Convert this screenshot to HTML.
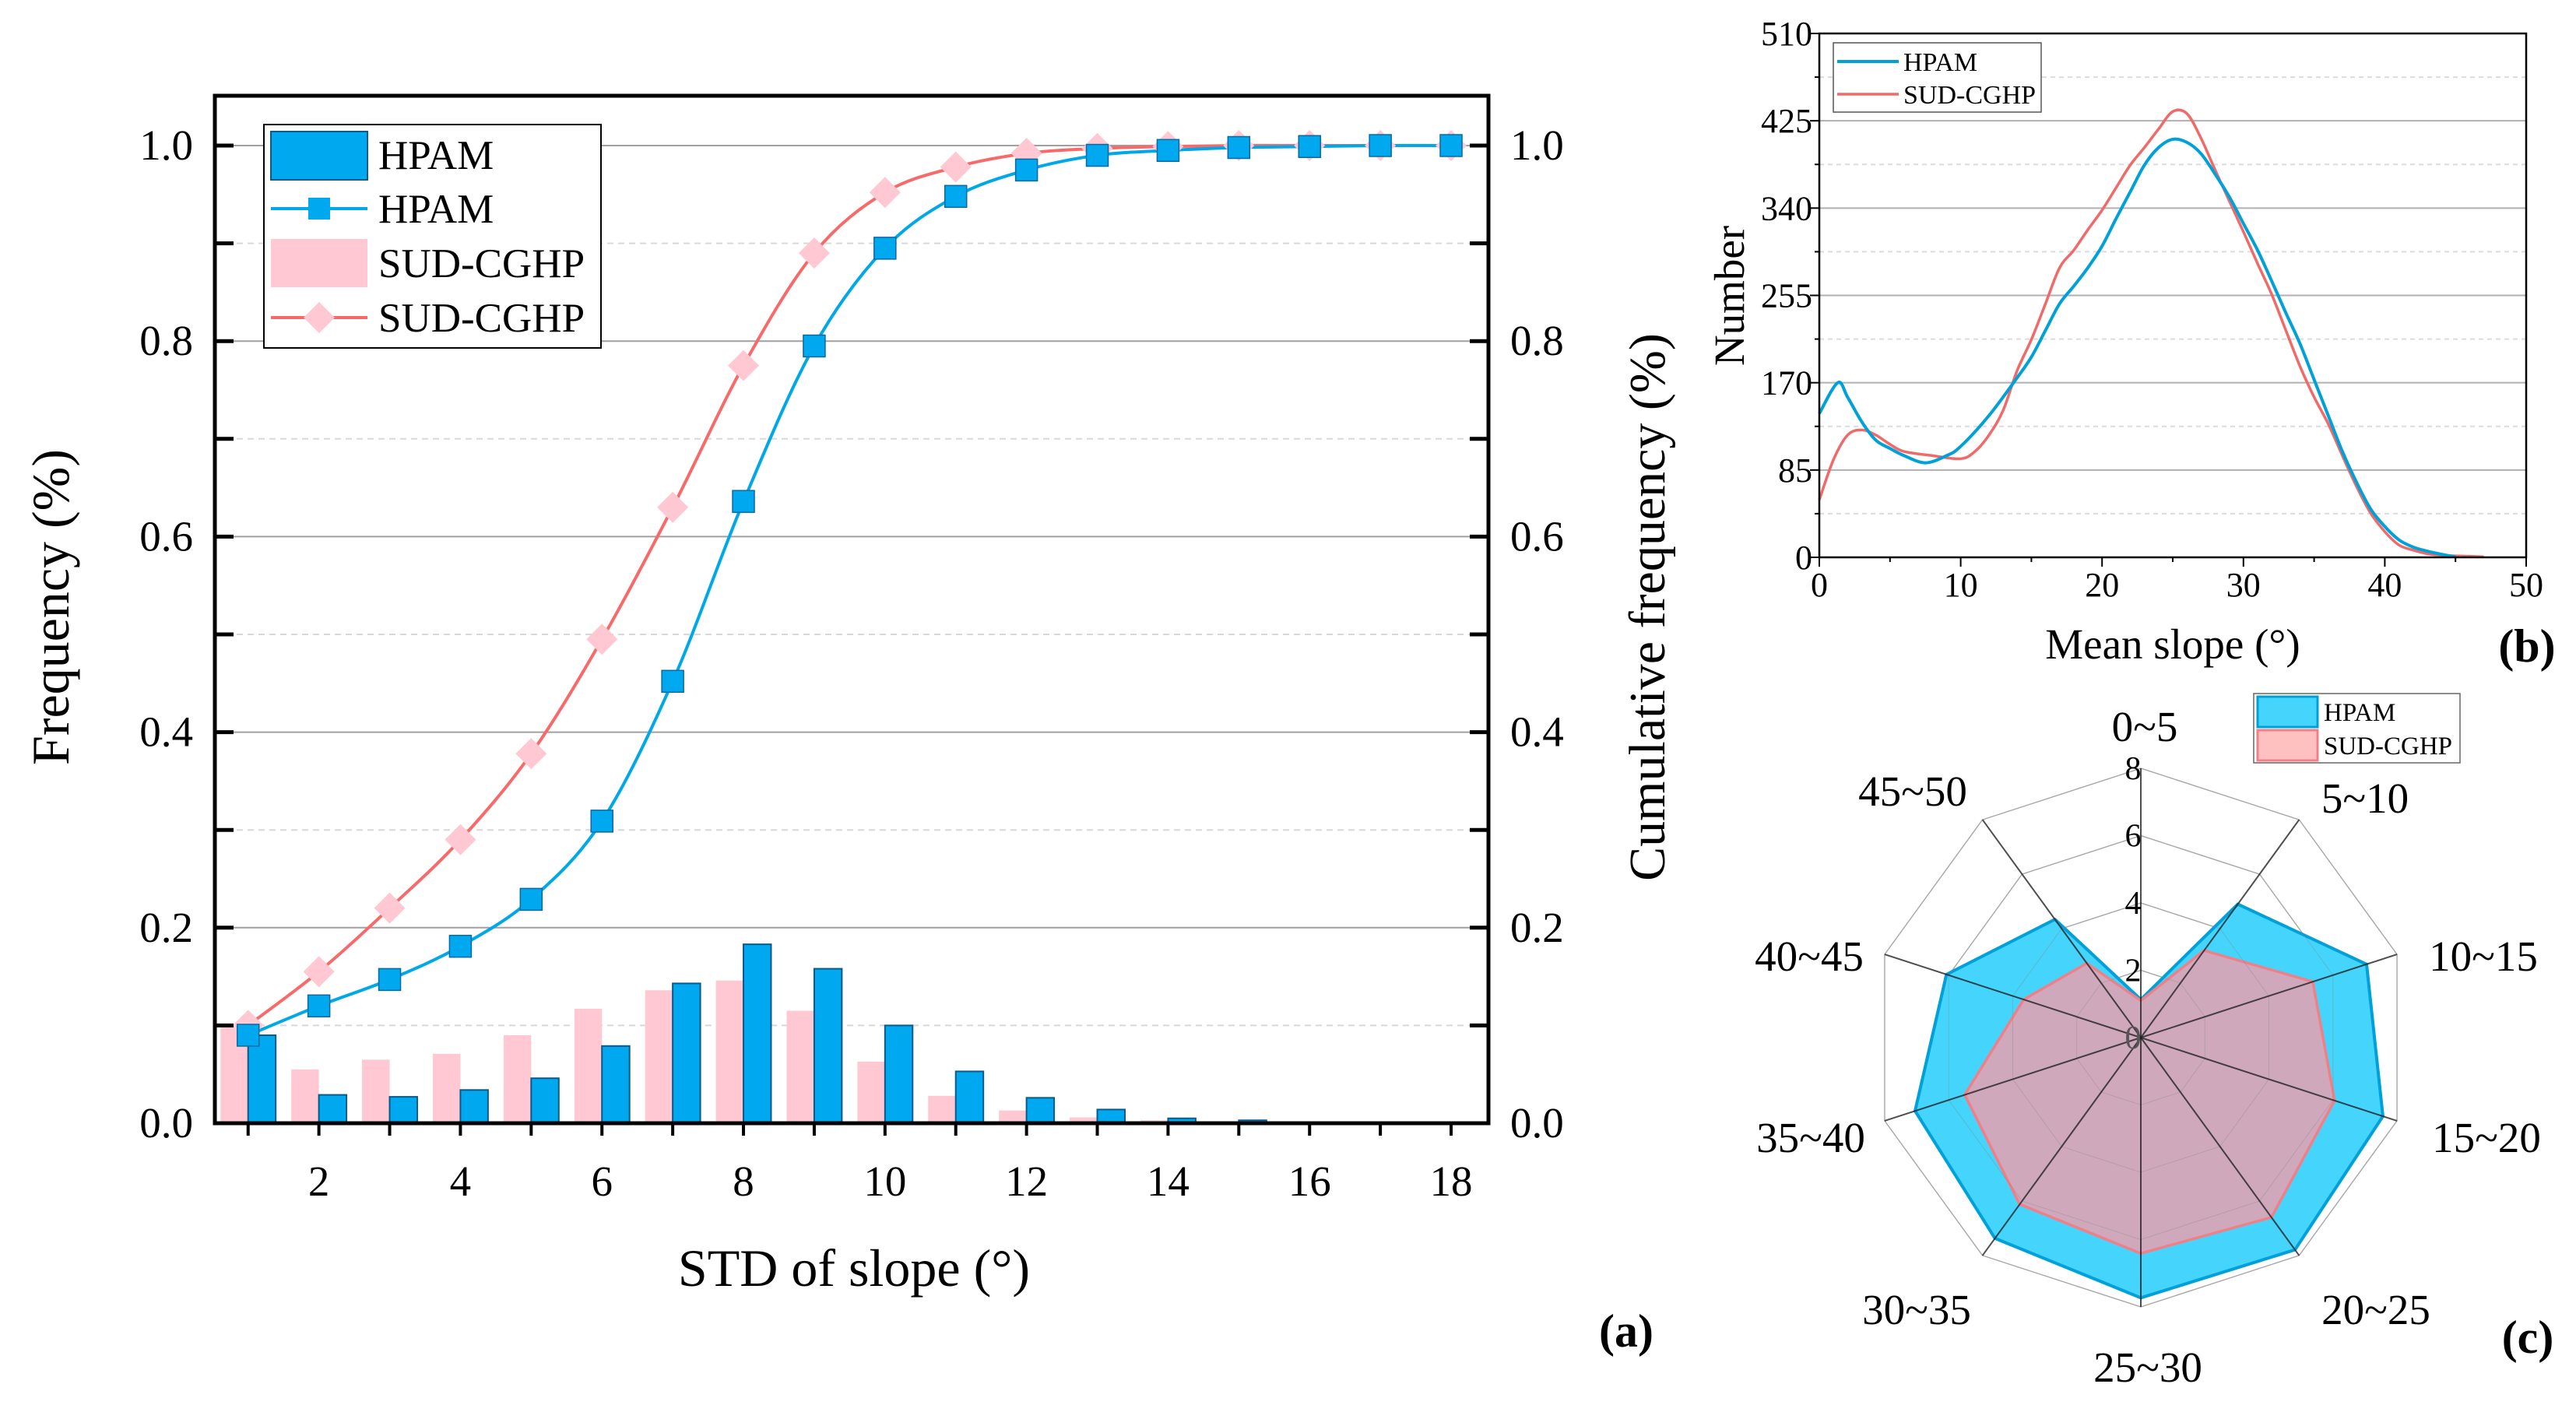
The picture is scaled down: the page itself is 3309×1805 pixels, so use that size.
<!DOCTYPE html>
<html><head><meta charset="utf-8"><style>
html,body{margin:0;padding:0;background:#fff}
svg{display:block;font-family:"Liberation Serif",serif}
</style></head><body>
<svg id="root" width="3309" height="1805" viewBox="0 0 3309 1805" xmlns="http://www.w3.org/2000/svg">
<g id="ga"></g>
<g id="gb"></g>
<g id="gc"></g>
</svg>
<script>
// ---------- Panel (a) data ----------
const aCats = [1,2,3,4,5,6,7,8,9,10,11,12,13,14,15,16,17,18];
const aHpamBars = [0.09,0.029,0.027,0.034,0.046,0.079,0.143,0.183,0.158,0.10,0.053,0.026,0.014,0.005,0.003,0.001,0,0];
const aSudBars = [0.10,0.055,0.065,0.071,0.09,0.117,0.136,0.146,0.115,0.063,0.028,0.013,0.006,0.003,0.001,0,0,0];
const aHpamCum = [0.09,0.12,0.147,0.181,0.229,0.309,0.452,0.636,0.795,0.895,0.948,0.975,0.99,0.995,0.998,0.999,1,1];
const aSudCum = [0.10,0.155,0.22,0.29,0.378,0.495,0.63,0.775,0.89,0.952,0.978,0.992,0.997,0.999,1,1,1,1];
const aYTicks = ["0.0","0.2","0.4","0.6","0.8","1.0"];
const aXTicks = [2,4,6,8,10,12,14,16,18];
// ---------- Panel (b) data ----------
const bHpamX = [0,1.3,2,3,4,5,6,7.5,9,10,12,14,15,16,17,18,19,20,21,22,23,24,25,26,27,28,29,30,31,32,33,34,35,36,37,38,39,40,41,42,43,44,45];
const bHpamY = [140,170,156,132,114,106,99,92,99,108,138,175,195,221,247,264,282,303,330,356,382,399,407,404,393,373,351,325,299,269,238,208,173,138,103,73,47,30,17,10,6,3,0.5];
const bSudX = [0,1,2,3,4,5,6,8,10,11,12,13,14,15,16,17,18,19,20,21,22,23,24,25,26,27,28,29,30,31,32,33,34,35,36,37,38,39,40,41,42,43,44,46,47];
const bSudY = [56,95,119,124,119,110,103,99,96,103,119,143,182,212,247,282,299,319,338,360,382,399,417,434,432,408,377,347,317,286,256,221,186,156,130,99,69,43,25,12,7,3.5,2,1,0.5];
const bYTicks = [0,85,170,255,340,425,510];
const bXTicks = [0,10,20,30,40,50];
// ---------- Panel (c) data ----------
const cCats = ["0~5","5~10","10~15","15~20","20~25","25~30","30~35","35~40","40~45","45~50"];
const cHpam = [1.13,4.9,7.05,7.56,7.79,7.73,7.37,7.05,6.07,4.34];
const cSud = [1.1,3.2,5.37,6.05,6.6,6.41,6.12,5.5,3.66,2.73];
const cRings = [0,2,4,6,8];

const NS="http://www.w3.org/2000/svg";
function mk(parent,tag,attrs,text){const e=document.createElementNS(NS,tag);for(const k in attrs)e.setAttribute(k,attrs[k]);if(text!==undefined)e.textContent=text;parent.appendChild(e);return e;}
function smooth(pts){let d="M"+pts[0][0]+","+pts[0][1];for(let i=0;i<pts.length-1;i++){const p0=pts[i-1]||pts[i],p1=pts[i],p2=pts[i+1],p3=pts[i+2]||p2;const c1=[p1[0]+(p2[0]-p0[0])/6,p1[1]+(p2[1]-p0[1])/6],c2=[p2[0]-(p3[0]-p1[0])/6,p2[1]-(p3[1]-p1[1])/6];d+=" C"+c1[0]+","+c1[1]+" "+c2[0]+","+c2[1]+" "+p2[0]+","+p2[1];}return d;}

// ===== Panel a =====
(function(){
const g=document.getElementById('ga');
const L=276,R=1912,T=123,B=1443;
const x=v=>L+(v-0.53)*90.9, y=v=>B-v*1256;
for(let i=1;i<=10;i++){const v=i/10;const ln=mk(g,'line',{x1:L,x2:R,y1:y(v),y2:y(v),stroke:i%2?'#d8d8d8':'#a0a0a0','stroke-width':2,'stroke-dasharray':i%2?'8,6':'none'});
}
const bw=0.39*90.9;
aCats.forEach((c,i)=>{
 const r1=mk(g,'rect',{x:x(c)-bw,y:y(aSudBars[i]),width:bw,height:B-y(aSudBars[i]),fill:'#ffc8d2'});
 
 const r2=mk(g,'rect',{x:x(c),y:y(aHpamBars[i]),width:bw,height:B-y(aHpamBars[i]),fill:'#00a8f0',stroke:'#0a5a8a','stroke-width':2});
 
});
const ps=aCats.map((c,i)=>[x(c),y(aSudCum[i])]);
const l1=mk(g,'path',{d:smooth(ps),fill:'none',stroke:'#f86a6a','stroke-width':4});

const ph=aCats.map((c,i)=>[x(c),y(aHpamCum[i])]);
const l2=mk(g,'path',{d:smooth(ph),fill:'none',stroke:'#00a8e8','stroke-width':4});

ps.forEach(p=>{const m=mk(g,'polygon',{points:`${p[0]},${p[1]-20} ${p[0]+20},${p[1]} ${p[0]},${p[1]+20} ${p[0]-20},${p[1]}`,fill:'#ffc8d2'});
 });
ph.forEach(p=>{const m=mk(g,'rect',{x:p[0]-14,y:p[1]-14,width:28,height:28,fill:'#00a8f0',stroke:'#0a6aa0','stroke-width':1.5});
 });
const fr=mk(g,'rect',{x:L,y:T,width:R-L,height:B-T,fill:'none',stroke:'#000','stroke-width':5});

for(let i=0;i<=10;i++){const v=i/10;mk(g,'line',{x1:L,x2:L+24,y1:y(v),y2:y(v),stroke:'#000','stroke-width':5});mk(g,'line',{x1:R-24,x2:R,y1:y(v),y2:y(v),stroke:'#000','stroke-width':5});}
aCats.forEach(c=>mk(g,'line',{x1:x(c),x2:x(c),y1:B,y2:B+16,stroke:'#000','stroke-width':4}));
aYTicks.forEach(t=>{const v=+t;
 const a=mk(g,'text',{x:248,y:y(v)+18,'font-size':55,'text-anchor':'end'},t);
 const b=mk(g,'text',{x:1940,y:y(v)+18,'font-size':55},t);});
aXTicks.forEach(t=>{const a=mk(g,'text',{x:x(t),y:1536,'font-size':55,'text-anchor':'middle'},t);});
let t=mk(g,'text',{x:0,y:0,'font-size':68,'text-anchor':'middle',transform:'translate(88,780) rotate(-90)'},'Frequency (%)');
t=mk(g,'text',{x:0,y:0,'font-size':66,'text-anchor':'middle',transform:'translate(2138,780) rotate(-90)'},'Cumulative frequency (%)');
t=mk(g,'text',{x:1097,y:1652,'font-size':68,'text-anchor':'middle'},'STD of slope (°)');
t=mk(g,'text',{x:2089,y:1730,'font-size':60,'font-weight':'bold','text-anchor':'middle'},'(a)');
const lg=mk(g,'g',{});
mk(lg,'rect',{x:339,y:160,width:433,height:287,fill:'#fff',stroke:'#000','stroke-width':2});
mk(lg,'rect',{x:348,y:169,width:124,height:62,fill:'#00a8f0',stroke:'#0a5a8a','stroke-width':2});
mk(lg,'line',{x1:348,x2:472,y1:268,y2:268,stroke:'#00a8e8','stroke-width':4});
mk(lg,'rect',{x:396,y:254,width:28,height:28,fill:'#00a8f0'});
mk(lg,'rect',{x:348,y:307,width:124,height:62,fill:'#ffc8d2'});
mk(lg,'line',{x1:348,x2:472,y1:408,y2:408,stroke:'#f86a6a','stroke-width':4});
mk(lg,'polygon',{points:'410,388 430,408 410,428 390,408',fill:'#ffc8d2'});
[['HPAM',217],['HPAM',286],['SUD-CGHP',356],['SUD-CGHP',426]].forEach(e=>{const tx=mk(lg,'text',{x:486,y:e[1],'font-size':53},e[0]);});
})();

// ===== Panel b =====
(function(){
const g=document.getElementById('gb');
const L=2337,R=3245,T=43,B=716;
const x=v=>L+v*(R-L)/50, y=v=>B-v*(B-T)/510;
for(let i=1;i<12;i++){const v=i*42.5;const ln=mk(g,'line',{x1:L,x2:R,y1:y(v),y2:y(v),stroke:i%2?'#dcdcdc':'#b0b0b0','stroke-width':2,'stroke-dasharray':i%2?'6,5':'none'});}
const ps=bSudX.map((v,i)=>[x(v),y(bSudY[i])]);
let l=mk(g,'path',{d:smooth(ps),fill:'none',stroke:'#f06a6a','stroke-width':3.5});
const ph=bHpamX.map((v,i)=>[x(v),y(bHpamY[i])]);
l=mk(g,'path',{d:smooth(ph),fill:'none',stroke:'#00a0d8','stroke-width':4});
const fr=mk(g,'rect',{x:L,y:T,width:R-L,height:B-T,fill:'none',stroke:'#000','stroke-width':2.5});
for(let i=0;i<=12;i++){const v=i*42.5;mk(g,'line',{x1:L-(i%2?6:12),x2:L,y1:y(v),y2:y(v),stroke:'#000','stroke-width':2});}
for(let i=0;i<=10;i++){const v=i*5;mk(g,'line',{x1:x(v),x2:x(v),y1:B,y2:B+(i%2?6:12),stroke:'#000','stroke-width':2});}
bYTicks.forEach(v=>{const a=mk(g,'text',{x:2328,y:y(v)+15,'font-size':44,'text-anchor':'end'},v);});
bXTicks.forEach(v=>{const a=mk(g,'text',{x:x(v),y:766,'font-size':44,'text-anchor':'middle'},v);});
let t=mk(g,'text',{x:0,y:0,'font-size':55,'text-anchor':'middle',transform:'translate(2240,380) rotate(-90)'},'Number');
t=mk(g,'text',{x:2791,y:846,'font-size':55,'text-anchor':'middle'},'Mean slope (°)');
t=mk(g,'text',{x:3246,y:850,'font-size':60,'font-weight':'bold','text-anchor':'middle'},'(b)');
const lg=mk(g,'g',{});
mk(lg,'rect',{x:2355,y:55,width:267,height:89,fill:'#fff',stroke:'#555','stroke-width':1.5});
mk(lg,'line',{x1:2360,x2:2439,y1:79,y2:79,stroke:'#00a0d8','stroke-width':4});
mk(lg,'line',{x1:2360,x2:2439,y1:121,y2:121,stroke:'#f06a6a','stroke-width':3.5});
let e=mk(lg,'text',{x:2445,y:91,'font-size':34},'HPAM');
e=mk(lg,'text',{x:2445,y:133,'font-size':34},'SUD-CGHP');
})();

// ===== Panel c =====
(function(){
const g=document.getElementById('gc');
const cx=2750,cy=1333,R=346,max=8,n=cCats.length;
const pt=(i,v)=>{const a=i*2*Math.PI/n;return [cx+Math.sin(a)*R*v/max,cy-Math.cos(a)*R*v/max];};
cRings.forEach(r=>{if(!r)return;const p=cCats.map((c,i)=>pt(i,r).join(',')).join(' ');const e=mk(g,'polygon',{points:p,fill:'none',stroke:'#b8b8b8','stroke-width':1.5});});
let p=cHpam.map((v,i)=>pt(i,v).join(',')).join(' ');
let e=mk(g,'polygon',{points:p,fill:'#44d4fc',stroke:'#00a0d8','stroke-width':4,'stroke-linejoin':'round'});
p=cSud.map((v,i)=>pt(i,v).join(',')).join(' ');
e=mk(g,'polygon',{points:p,fill:'#cfa8bc',stroke:'#f08088','stroke-width':3.5});
cRings.forEach(r=>{if(!r)return;const q=cCats.map((c,i)=>pt(i,r).join(',')).join(' ');mk(g,'polygon',{points:q,fill:'none',stroke:'#888','stroke-width':1,opacity:0.35});});
// category label centres (layout positions)
const labelPos=[[2755,933],[3038,1025],[3190,1228],[3194,1461],[3052,1682],[2759,1756],[2462,1682],[2326,1461],[2324,1228],[2457,1016]];
cCats.forEach((c,i)=>{const q=pt(i,max);const s=mk(g,'line',{x1:cx,y1:cy,x2:q[0],y2:q[1],stroke:'#222','stroke-width':2,opacity:0.8});
 const lp=labelPos[i];const t=mk(g,'text',{x:lp[0],y:lp[1]+19,'font-size':55,'text-anchor':'middle'},c);});
cRings.forEach(r=>{const t=mk(g,'text',{x:cx-10,y:cy-R*r/max+14,'font-size':42,'text-anchor':'middle',fill:r?'#000':'#555'},r);});
let t=mk(g,'text',{x:3247,y:1738,'font-size':60,'font-weight':'bold','text-anchor':'middle'},'(c)');
const lg=mk(g,'g',{});
mk(lg,'rect',{x:2895,y:891,width:265,height:89,fill:'#fff',stroke:'#666','stroke-width':1.5});
mk(lg,'rect',{x:2900,y:895,width:77,height:39,fill:'#44d4fc',stroke:'#00a0d8','stroke-width':3});
mk(lg,'rect',{x:2900,y:938,width:77,height:39,fill:'#ffc0c0',stroke:'#f08088','stroke-width':3});
e=mk(lg,'text',{x:2985,y:926,'font-size':33},'HPAM');
e=mk(lg,'text',{x:2985,y:969,'font-size':33},'SUD-CGHP');
})();
</script>
</body></html>
